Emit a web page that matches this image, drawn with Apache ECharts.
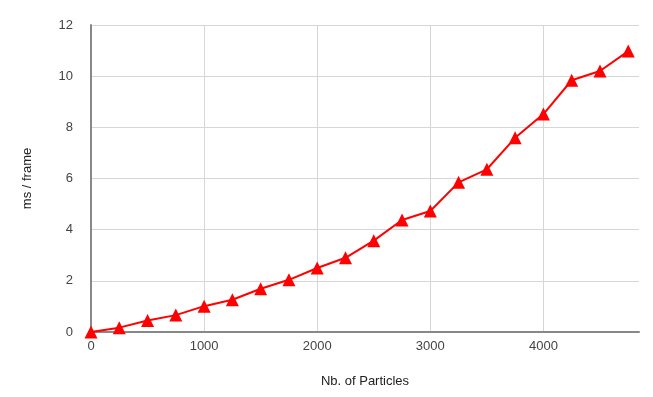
<!DOCTYPE html>
<html>
<head>
<meta charset="utf-8">
<script src="https://cdn.jsdelivr.net/npm/echarts@6/dist/echarts.min.js"></script>
<style>
    html, body {margin: 0; padding: 0; background: #fff;}
    #chart {width: 653px; height: 397px;}
</style>
</head>
<body>
<div id="chart"></div>
<script>
// nombre de particules / temps par frame
const particles = [0, 250, 500, 750, 1000, 1250, 1500, 1750, 2000, 2250,
    2500, 2750, 3000, 3250, 3500, 3750, 4000, 4250, 4500, 4750];
const msPerFrame = [0, 0.17, 0.45, 0.66, 1.01, 1.26, 1.69, 2.04, 2.5, 2.9,
    3.57, 4.38, 4.73, 5.85, 6.36, 7.59, 8.52, 9.84, 10.2, 10.98];

let chart = echarts.init(document.getElementById('chart'));
const font = 'Arial, "Liberation Sans", sans-serif';

let option = {
    animation: false,
    grid: {left: 91, right: 14, top: 25, bottom: 65},
    xAxis: {
        type: 'value',
        min: 0,
        max: 4845,
        interval: 1000,
        name: 'Nb. of Particles',
        nameLocation: 'middle',
        nameGap: 43,
        nameTextStyle: {color: '#222', fontSize: 13, fontFamily: font},
        axisLine: {lineStyle: {color: '#888', width: 2}},
        axisTick: {show: false},
        axisLabel: {
            color: '#444', fontSize: 13, fontFamily: font, margin: 8, showMaxLabel: false,
            formatter: v => String(v)
        },
        splitLine: {lineStyle: {color: ['#d6d6d6', '#d6d6d6', '#d6d6d6', '#d6d6d6', '#d6d6d6', 'transparent'], width: 1}}
    },
    yAxis: {
        type: 'value',
        min: 0,
        max: 12,
        interval: 2,
        name: 'ms / frame',
        nameLocation: 'middle',
        nameGap: 57,
        nameTextStyle: {color: '#222', fontSize: 13, fontFamily: font},
        axisLine: {show: true, lineStyle: {color: '#888', width: 2}},
        axisTick: {show: false},
        axisLabel: {color: '#444', fontSize: 13, fontFamily: font, margin: 18},
        splitLine: {lineStyle: {color: '#d6d6d6', width: 1}}
    },
    series: [{
        type: 'line',
        data: particles.map((p, i) => [p, msPerFrame[i]]),
        symbol: 'triangle',
        symbolSize: 13,
        itemStyle: {color: '#ff0000'},
        lineStyle: {color: '#ff0000', width: 2}
    }]
};
chart.setOption(option);
</script>
</body>
</html>
